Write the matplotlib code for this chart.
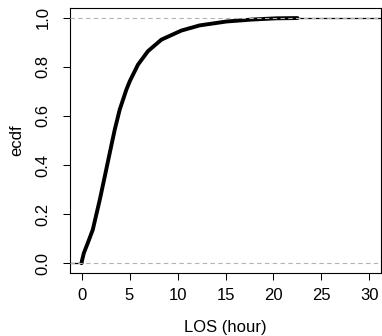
import matplotlib
matplotlib.use("Agg")
import matplotlib.pyplot as plt

plt.rcParams["font.family"] = ["Liberation Sans", "DejaVu Sans"]

los_hour = [0.0, 0.03, 0.24, 0.65, 1.17, 1.9, 2.42, 2.94, 3.46, 3.98, 4.67,
            5.02, 5.88, 6.92, 8.32, 10.4, 12.3, 15.1, 17.8, 20.3, 22.5]
ecdf = [0.0, 0.007, 0.041, 0.082, 0.136, 0.258, 0.353, 0.449, 0.544, 0.626,
        0.707, 0.741, 0.809, 0.864, 0.911, 0.948, 0.969, 0.985, 0.993, 0.998,
        0.999]

x_ticks = [0, 5, 10, 15, 20, 25, 30]
y_ticks = [0.0, 0.2, 0.4, 0.6, 0.8, 1.0]
x_range = (-1.2, 31.2)
y_range = (-0.04, 1.04)

fig = plt.figure(figsize=(3.82, 3.36), dpi=100)
ax = fig.add_axes([70 / 382, 63 / 336, 311 / 382, 265 / 336])

# flat part before zero and thin tail at 1
ax.plot([x_range[0], los_hour[0]], [0, 0], color="black", lw=0.9, zorder=2)
ax.plot([los_hour[-1], x_range[1]], [1, 1], color="black", lw=0.9, zorder=2)
ax.plot(los_hour, ecdf, color="black", lw=2.8, solid_capstyle="round",
        solid_joinstyle="round", zorder=3)

for h in (0, 1):
    ax.axhline(h, color="#b3b3b3", lw=0.8, ls=(0, (4, 3)), zorder=4)

ax.set_xlim(*x_range)
ax.set_ylim(*y_range)
ax.set_xticks(x_ticks)
ax.set_xticklabels([str(t) for t in x_ticks], fontsize=12)
ax.set_yticks(y_ticks)
ax.set_yticklabels([f"{t:.1f}" for t in y_ticks], fontsize=12, rotation=90, va="center")

ax.tick_params(axis="both", direction="out", length=5, width=0.75)
ax.tick_params(axis="x", pad=6)
ax.tick_params(axis="y", pad=9)
for sp in ax.spines.values():
    sp.set_linewidth(0.8)

ax.set_xlabel("LOS (hour)", fontsize=12)
ax.set_ylabel("ecdf", fontsize=12)
ax.xaxis.set_label_coords(0.5, -0.204)
ax.xaxis.label.set_va("center")
ax.yaxis.set_label_coords(-0.17, 0.5)
ax.yaxis.label.set_va("center")

fig.savefig("out.png", dpi=100)
